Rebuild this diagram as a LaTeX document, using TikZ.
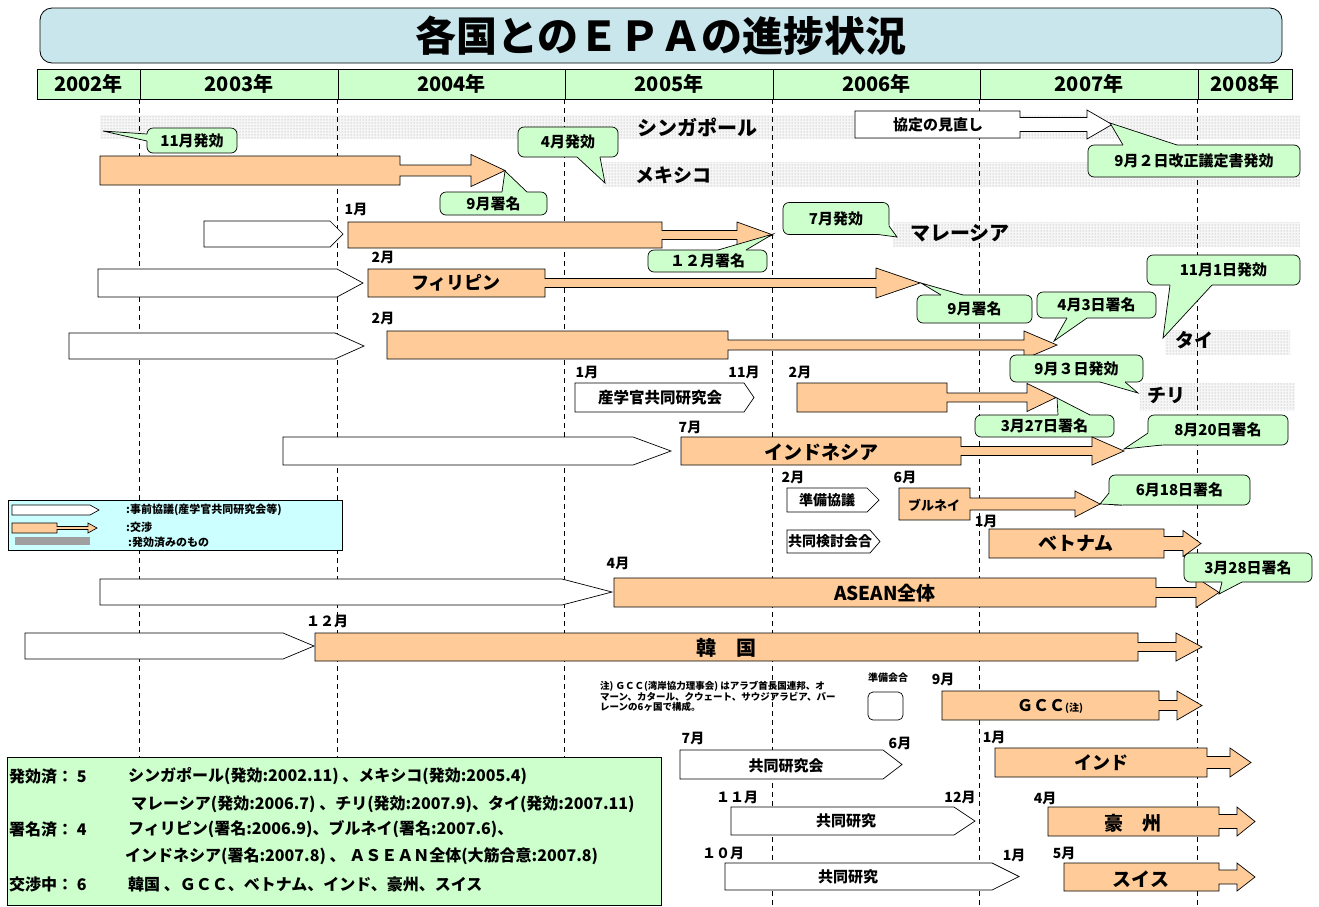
\documentclass[tikz,border=0pt]{standalone}
\usepackage{fontspec}
\setmainfont{Noto Sans CJK JP}
\usetikzlibrary{calc,patterns}
\definecolor{orng}{RGB}{255,204,153}
\definecolor{grn}{RGB}{204,255,204}
\definecolor{cyn}{RGB}{204,255,255}
\definecolor{ttl}{RGB}{200,230,236}
\newcommand\fs[1]{\fontsize{#1}{#1}\selectfont\bfseries}
\newcommand\oarr[9][obox]{%
  \draw[#1] (#2,#3) -- (#4,#3) -- (#4,{(#3+#5)/2-#8}) -- (#6,{(#3+#5)/2-#8}) -- (#6,{(#3+#5)/2-#9}) -- (#7,{(#3+#5)/2}) -- (#6,{(#3+#5)/2+#9}) -- (#6,{(#3+#5)/2+#8}) -- (#4,{(#3+#5)/2+#8}) -- (#4,#5) -- (#2,#5) -- cycle;}
\newcommand\warr[5]{\draw[wbox] (#1,#2) -- (#3,#2) -- (#4,{(#2+#5)/2}) -- (#3,#5) -- (#1,#5) -- cycle;}
\newcommand\ctail[4]{%
  \fill[grn] ($#1+#4$) -- ($#1$) -- #3 -- ($#2$) -- ($#2+#4$) -- cycle;
  \draw[line width=0.7pt] ($#1$) -- #3 -- ($#2$);}
\tikzset{
  wbox/.style={draw, fill=white, line width=0.7pt},
  obox/.style={draw, fill=orng, line width=0.7pt},
  lbl/.style={inner sep=0pt, font=\fs{19}},
  mon/.style={inner sep=0pt, font=\fs{14}},
  wtxt/.style={inner sep=0pt, font=\fs{14}},
  call/.style={draw, fill=grn, rounded corners=6pt, inner sep=0pt, font=\fs{15}, line width=0.7pt},
  band/.style={fill=gray!7, postaction={pattern=dots, pattern color=gray!75}},
  grid/.style={dash pattern=on 5pt off 4pt, line width=0.6pt},
  yr/.style={draw, fill=grn, inner sep=0pt, minimum height=30, font=\fs{20}, line width=0.8pt},
  sm/.style={inner sep=0pt, anchor=west, font=\fs{16}},
  lg/.style={inner sep=0pt, anchor=west, font=\fs{11}},
}
\begin{document}
\begin{tikzpicture}[x=1pt,y=-1pt]
\useasboundingbox (0,0) rectangle (1319,906);
% bands of agreements in force
\path[band] (100,115) rectangle (1300,139);
\path[band] (603,162) rectangle (1300,187);
\path[band] (893,222) rectangle (1300,247);
\path[band] (1165,330) rectangle (1290,355);
\path[band] (1140,383) rectangle (1295,410);
% title
\node[draw, fill=ttl, rounded corners=12pt, minimum width=1242, minimum height=55, inner sep=0pt, font=\fs{41}, line width=0.8pt] (title) at (661,35.5) {各国とのＥＰＡの進捗状況};
% year header
\node[yr, minimum width=103] (y2002) at (88.5,84) {2002年};
\node[yr, minimum width=198] (y2003) at (239,84) {2003年};
\node[yr, minimum width=227] (y2004) at (451.5,84) {2004年};
\node[yr, minimum width=208] (y2005) at (669,84) {2005年};
\node[yr, minimum width=207] (y2006) at (876.5,84) {2006年};
\node[yr, minimum width=218] (y2007) at (1089,84) {2007年};
\node[yr, minimum width=94] (y2008) at (1245,84) {2008年};
\foreach \n in {y2003,y2004,y2005,y2006,y2007,y2008}
  \draw[grid] (\n.south west) -- (\n.south west |- 0,906);
% Singapore
\node[lbl, font=\fs{20}] (sgp) at (697,127) {シンガポール};
\oarr{100}{156}{400}{185}{471}{505}{5.5}{16}
\oarr[wbox]{855}{111}{1020}{138}{1087}{1112}{7}{14.5}
\node[wtxt, font=\fs{15}] (minaoshi) at (938,124.5) {協定の見直し};
\node[call, minimum width=90, minimum height=25] (c1) at (192,140.5) {11月発効};
\ctail{(147,134)}{(147,141)}{(103,131)}{(3,0)}
\node[call, minimum width=212, minimum height=32] (c14) at (1194,161) {9月２日改正議定書発効};
\ctail{(1123,145)}{(1177,145)}{(1110,123)}{(0,3)}
% Mexico
\node[lbl] (mex) at (673,175) {メキシコ};
\node[call, minimum width=100, minimum height=30] (c2) at (568,142) {4月発効};
\ctail{(577,157)}{(600,157)}{(605,183)}{(0,-3)}
\node[call, minimum width=107, minimum height=23] (c3) at (493.5,203.5) {9月署名};
\ctail{(502,192)}{(527,192)}{(505,171)}{(0,3)}
% Malaysia
\node[lbl, font=\fs{20}] (mys) at (960,233) {マレーシア};
\warr{204}{221}{330}{343}{247}
\oarr{348}{222}{662}{248}{737}{773}{4.5}{13}
\node[mon] (m1) at (356,209) {1月};
\node[call, minimum width=119, minimum height=22] (c4) at (707.5,261) {１２月署名};
\ctail{(718,250)}{(746,250)}{(773,234)}{(0,3)}
\node[call, minimum width=106, minimum height=32] (c5) at (836,218.5) {7月発効};
\ctail{(878,234.5)}{(889,226)}{(897,237)}{(-3,-3)}
% Philippines
\warr{98}{269}{337}{363}{297}
\oarr{368}{269}{545}{297}{876}{920}{4.5}{15}
\node[lbl, font=\fs{18}] (phl) at (456,283) {フィリピン};
\node[mon] (m2) at (383,257) {2月};
\node[call, minimum width=115, minimum height=28] (c6) at (974.5,309) {9月署名};
\ctail{(941,295)}{(963,295)}{(921,283)}{(0,3)}
% Thailand
\warr{69}{333}{335}{364}{359}
\oarr{387}{331}{728}{359}{1024}{1057}{5}{14}
\node[mon] (m3) at (383,318) {2月};
\node[lbl] (tha) at (1194,340) {タイ};
\node[call, minimum width=119, minimum height=26] (c7) at (1096.5,305) {4月3日署名};
\ctail{(1067,318)}{(1087,318)}{(1054,341)}{(0,-3)}
\node[call, minimum width=153, minimum height=30] (c8) at (1223.5,270) {11月1日発効};
\ctail{(1170,285)}{(1212,285)}{(1163,338)}{(0,-3)}
% Chile
\warr{575}{383}{744}{754}{412}
\node[wtxt, font=\fs{15.5}] (sangaku) at (660,397.5) {産学官共同研究会};
\node[mon] (m4) at (587,372) {1月};
\node[mon] (m5) at (744,372) {11月};
\node[mon] (m6) at (800,372) {2月};
\oarr{797}{383}{947}{412}{1027}{1056}{4.5}{14}
\node[lbl] (chl) at (1166,395) {チリ};
\node[call, minimum width=133, minimum height=27] (c9) at (1076.5,368.5) {9月３日発効};
\ctail{(1100,382)}{(1125,382)}{(1138,393)}{(0,-3)}
\node[call, minimum width=139, minimum height=22] (c10) at (1044.5,426) {3月27日署名};
\ctail{(1058,415)}{(1090,415)}{(1057,398)}{(0,3)}
% Indonesia
\warr{283}{437}{633}{671}{465}
\oarr{681}{437}{961}{465}{1092}{1124}{4.5}{14}
\node[lbl] (idn) at (821,452) {インドネシア};
\node[mon] (m7) at (690,427) {7月};
\node[call, minimum width=140, minimum height=30] (c11) at (1218,430) {8月20日署名};
\ctail{(1148,433)}{(1162,445)}{(1124,449)}{(3,-3)}
% Brunei
\node[mon] (m8) at (793,477) {2月};
\node[mon] (m9) at (905,477) {6月};
\warr{787}{488}{867}{879}{512}
\node[wtxt] (junbi) at (827,500) {準備協議};
\oarr{899}{488}{970}{520}{1075}{1100}{6}{13}
\node[lbl, font=\fs{13}] (brn) at (934,505) {ブルネイ};
\node[call, minimum width=141, minimum height=30] (c12) at (1179.5,490) {6月18日署名};
\ctail{(1109,493)}{(1122,505)}{(1100,504)}{(3,-3)}
% Vietnam
\warr{787}{530}{870}{880}{553}
\node[wtxt] (kento) at (830,541.5) {共同検討会合};
\node[mon] (m10) at (986,521) {1月};
\oarr{989}{529}{1164}{558}{1183}{1201}{7}{13}
\node[lbl] (vnm) at (1076,544) {ベトナム};
% legend
\node[draw, fill=cyn, minimum width=334, minimum height=50, inner sep=0pt, anchor=north west, line width=0.8pt] (leg) at (8,500) {};
\warr{12}{505}{90}{99}{515}
\oarr{12}{523}{57}{533}{88}{97}{1.5}{5}
\fill[gray!75] (15,537) rectangle (90,545);
\node[lg] (lg1) at (126,510) {:事前協議(産学官共同研究会等)};
\node[lg] (lg2) at (126,527) {:交渉};
\node[lg] (lg3) at (128,542) {:発効済みのもの};
% ASEAN
\warr{100}{579}{562}{612}{605}
\oarr{614}{578}{1156}{607}{1196}{1219}{5}{15}
\node[lbl] (asean) at (885,593) {ASEAN全体};
\node[mon] (m11) at (618,563) {4月};
\node[call, minimum width=128, minimum height=29] (c13) at (1248,567.5) {3月28日署名};
\ctail{(1222,582)}{(1242,582)}{(1219,594)}{(0,-3)}
% Korea
\warr{25}{633}{283}{314}{659}
\oarr{315}{633}{1138}{661}{1176}{1202}{4.5}{14}
\node[lbl, font=\fs{20}] (kor) at (726,648) {韓　国};
\node[mon] (m12) at (327,621) {１２月};
% GCC
\node[inner sep=0pt, anchor=north west, align=left, font=\fontsize{9.5}{10.5}\selectfont\bfseries] (note) at (600,681) {注) ＧＣＣ(湾岸協力理事会) はアラブ首長国連邦、オ\\マーン、カタール、クウェート、サウジアラビア、バー\\レーンの6ヶ国で構成。};
\node[inner sep=0pt, font=\fs{10}] (junbik) at (888,678) {準備会合};
\draw[fill=white, rounded corners=5pt, line width=0.7pt] (868,692) rectangle (903,720);
\node[mon] (m13) at (943,679) {9月};
\oarr{942}{691}{1159}{720}{1177}{1202}{5}{14.5}
\node[lbl, font=\fs{16}] (gcc) at (1050,706) {ＧＣＣ{\fs{10}(注)}};
% India
\node[mon] (m14) at (693,738) {7月};
\node[mon] (m15) at (900,743) {6月};
\warr{680}{750}{883}{902}{779}
\node[wtxt, font=\fs{15}] (kk1) at (786,766) {共同研究会};
\node[mon] (m16) at (994,737) {1月};
\oarr{995}{748}{1207}{777}{1230}{1251}{6}{14.5}
\node[lbl, font=\fs{18}] (ind) at (1101,763) {インド};
% Australia
\node[mon] (m17) at (737,797) {１１月};
\node[mon] (m18) at (960,797) {12月};
\warr{731}{807}{954}{975}{835}
\node[wtxt, font=\fs{15}] (kk2) at (846,821) {共同研究};
\node[mon] (m19) at (1045,798) {4月};
\oarr{1048}{807}{1219}{836}{1237}{1255}{7}{14.5}
\node[lbl] (aus) at (1133,823) {豪　州};
% Switzerland
\node[mon] (m20) at (723,853) {１０月};
\node[mon] (m21) at (1014,855) {1月};
\node[mon] (m22) at (1064,853) {5月};
\warr{725}{863}{992}{1019}{890}
\node[wtxt, font=\fs{15}] (kk3) at (848,877) {共同研究};
\oarr{1064}{863}{1219}{891}{1237}{1255}{7}{14}
\node[lbl] (swi) at (1141,879) {スイス};
% summary
\node[draw, fill=grn, minimum width=654, minimum height=148, inner sep=0pt, anchor=north west, line width=0.8pt] (sum) at (7,757) {};
\node[sm] (s1) at (9,776) {発効済： 5};
\node[sm] (s2) at (128,776) {シンガポール(発効:2002.11) 、メキシコ(発効:2005.4)};
\node[sm] (s3) at (131,804) {マレーシア(発効:2006.7) 、チリ(発効:2007.9)、タイ(発効:2007.11)};
\node[sm] (s4) at (9,829) {署名済： 4};
\node[sm] (s5) at (128,829) {フィリピン(署名:2006.9)、ブルネイ(署名:2007.6)、};
\node[sm] (s6) at (125,856) {インドネシア(署名:2007.8) 、 ＡＳＥＡＮ全体(大筋合意:2007.8)};
\node[sm] (s7) at (9,884) {交渉中： 6};
\node[sm] (s8) at (128,884) {韓国 、ＧＣＣ、ベトナム、インド、豪州、スイス};
\end{tikzpicture}
\end{document}
